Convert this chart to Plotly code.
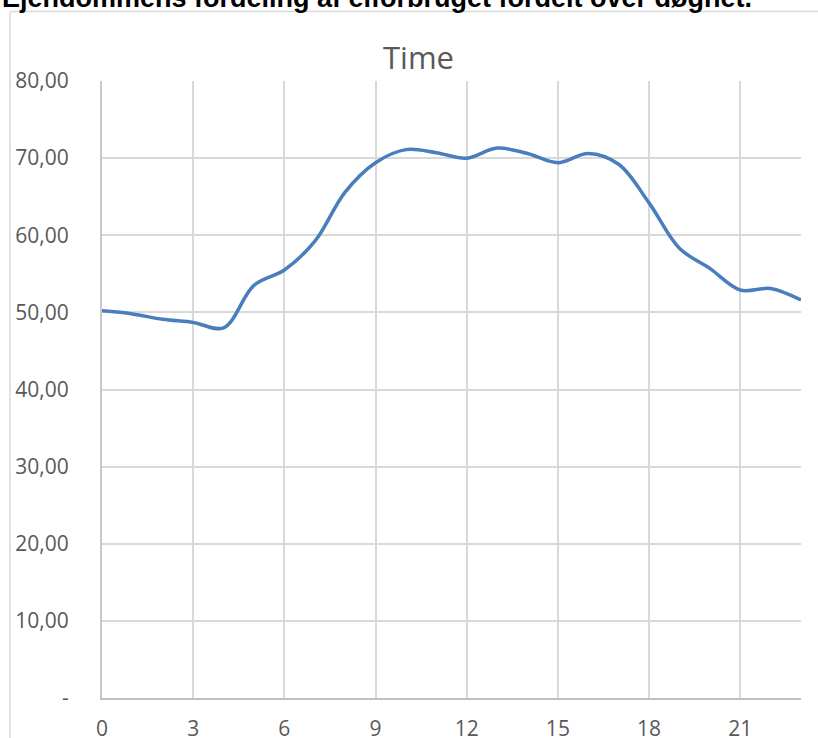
import plotly.graph_objects as go

hours = list(range(24))
values = [50.2, 49.8, 49.1, 48.7, 48.0, 53.5, 55.5, 59.2, 65.6, 69.4, 71.1, 70.7,
          70.0, 71.3, 70.6, 69.4, 70.6, 69.2, 64.2, 58.3, 55.7, 52.9, 53.1, 51.6]
x_ticks = [0, 3, 6, 9, 12, 15, 18, 21]
y_ticks = [0, 10, 20, 30, 40, 50, 60, 70, 80]
y_ticktext = ["-", "10,00", "20,00", "30,00", "40,00", "50,00", "60,00", "70,00", "80,00"]
chart_title = "Time"
page_title = "Ejendommens fordeling af elforbruget fordelt over døgnet."

W, H = 818, 738
L, R, T, B = 102, 17, 81, 40
PW, PH = W - L - R, H - T - B

def px(x):
    return (x - L) / PW

def py(y):
    return 1 + (T - y) / PH

fig = go.Figure()
fig.add_trace(go.Scatter(
    x=hours, y=values, mode="lines",
    line=dict(color="#4A7DBB", width=3.5, shape="spline", smoothing=1.0),
    hoverinfo="skip", showlegend=False,
))

font_family = "Open Sans, Liberation Sans, sans-serif"
tick_font = dict(family=font_family, size=21, color="#595959")

fig.update_layout(
    width=W, height=H,
    margin=dict(l=L, r=R, t=T, b=B, autoexpand=False),
    paper_bgcolor="white", plot_bgcolor="white",
    xaxis=dict(range=[0, 23], tickvals=x_ticks, showgrid=True, gridcolor="#D9D9D9",
               gridwidth=2, zeroline=False, showline=True, linecolor="#BFBFBF",
               linewidth=2, ticks="", tickfont=tick_font, ticklabelstandoff=11,
               automargin=False),
    yaxis=dict(range=[0, 80], tickvals=y_ticks, ticktext=y_ticktext, showgrid=True,
               gridcolor="#D9D9D9", gridwidth=2, zeroline=False, showline=True,
               linecolor="#C8C8C8", linewidth=2,
               ticks="", tickfont=tick_font, ticklabelstandoff=27, automargin=False),
    annotations=[
        dict(text=chart_title, xref="paper", yref="paper", x=px(418), y=py(57),
             xanchor="center", yanchor="middle", showarrow=False,
             font=dict(family=font_family, size=31, color="#595959")),
        dict(text="<b>" + page_title + "</b>", xref="paper", yref="paper", x=px(0), y=py(-2.4),
             xanchor="left", yanchor="middle", showarrow=False,
             font=dict(family="Liberation Sans, Arial, sans-serif", size=27, color="black")),
    ],
    shapes=[
        dict(type="line", xref="paper", yref="paper", x0=px(10), x1=px(10), y0=py(11.5), y1=py(760),
             line=dict(color="#D9D9D9", width=1.5)),
        dict(type="line", xref="paper", yref="paper", x0=px(10), x1=px(840), y0=py(11.5), y1=py(11.5),
             line=dict(color="#D9D9D9", width=1.5)),
    ],
)

fig.write_html("out.html", config={"displayModeBar": False},
               post_script="document.body.style.margin='0';document.body.style.overflow='hidden';")
